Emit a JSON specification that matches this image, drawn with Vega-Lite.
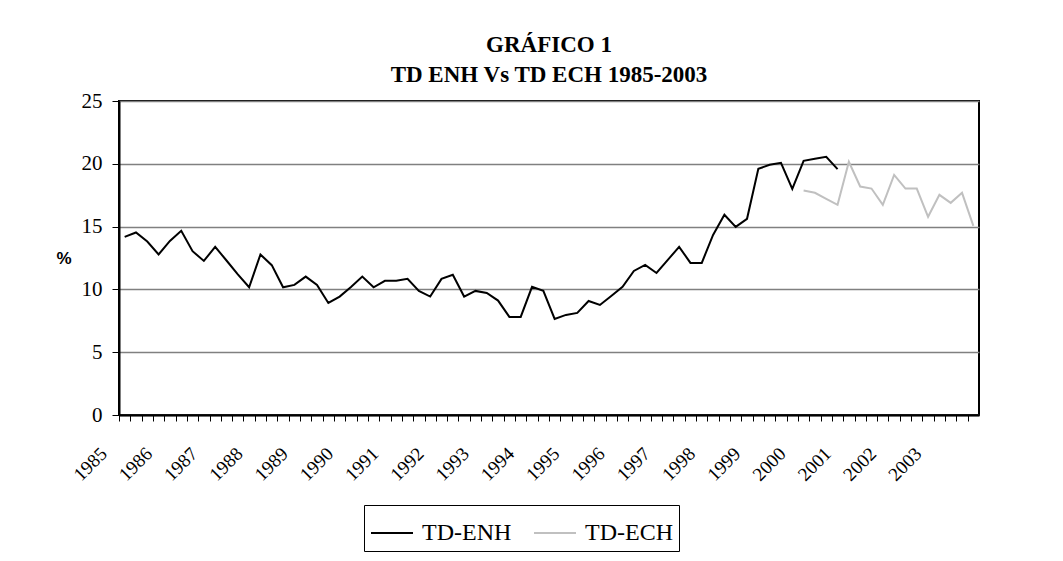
{
  "$schema": "https://vega.github.io/schema/vega-lite/v6.json",
  "width": 860,
  "height": 314,
  "autosize": {"type": "none"},
  "padding": {"left": 119, "top": 101, "right": 84, "bottom": 146},
  "background": "white",
  "title": {
    "text": ["GRÁFICO 1", "TD ENH Vs TD ECH 1985-2003"],
    "font": "Liberation Serif",
    "fontSize": 23,
    "fontWeight": "bold",
    "color": "#000",
    "anchor": "middle",
    "lineHeight": 30,
    "offset": 3
  },
  "data": {
    "values": [
      {"periodo": "1985-1", "serie": "TD-ENH", "valor": 14.18},
      {"periodo": "1985-2", "serie": "TD-ENH", "valor": 14.53},
      {"periodo": "1985-3", "serie": "TD-ENH", "valor": 13.81},
      {"periodo": "1985-4", "serie": "TD-ENH", "valor": 12.78},
      {"periodo": "1986-1", "serie": "TD-ENH", "valor": 13.86},
      {"periodo": "1986-2", "serie": "TD-ENH", "valor": 14.66},
      {"periodo": "1986-3", "serie": "TD-ENH", "valor": 13.04},
      {"periodo": "1986-4", "serie": "TD-ENH", "valor": 12.27},
      {"periodo": "1987-1", "serie": "TD-ENH", "valor": 13.39},
      {"periodo": "1987-2", "serie": "TD-ENH", "valor": 12.3},
      {"periodo": "1987-3", "serie": "TD-ENH", "valor": 11.2},
      {"periodo": "1987-4", "serie": "TD-ENH", "valor": 10.17},
      {"periodo": "1988-1", "serie": "TD-ENH", "valor": 12.78},
      {"periodo": "1988-2", "serie": "TD-ENH", "valor": 11.93},
      {"periodo": "1988-3", "serie": "TD-ENH", "valor": 10.17},
      {"periodo": "1988-4", "serie": "TD-ENH", "valor": 10.36},
      {"periodo": "1989-1", "serie": "TD-ENH", "valor": 11.02},
      {"periodo": "1989-2", "serie": "TD-ENH", "valor": 10.36},
      {"periodo": "1989-3", "serie": "TD-ENH", "valor": 8.92},
      {"periodo": "1989-4", "serie": "TD-ENH", "valor": 9.43},
      {"periodo": "1990-1", "serie": "TD-ENH", "valor": 10.2},
      {"periodo": "1990-2", "serie": "TD-ENH", "valor": 11.02},
      {"periodo": "1990-3", "serie": "TD-ENH", "valor": 10.17},
      {"periodo": "1990-4", "serie": "TD-ENH", "valor": 10.68},
      {"periodo": "1991-1", "serie": "TD-ENH", "valor": 10.68},
      {"periodo": "1991-2", "serie": "TD-ENH", "valor": 10.84},
      {"periodo": "1991-3", "serie": "TD-ENH", "valor": 9.88},
      {"periodo": "1991-4", "serie": "TD-ENH", "valor": 9.43},
      {"periodo": "1992-1", "serie": "TD-ENH", "valor": 10.84},
      {"periodo": "1992-2", "serie": "TD-ENH", "valor": 11.16},
      {"periodo": "1992-3", "serie": "TD-ENH", "valor": 9.43},
      {"periodo": "1992-4", "serie": "TD-ENH", "valor": 9.88},
      {"periodo": "1993-1", "serie": "TD-ENH", "valor": 9.72},
      {"periodo": "1993-2", "serie": "TD-ENH", "valor": 9.11},
      {"periodo": "1993-3", "serie": "TD-ENH", "valor": 7.81},
      {"periodo": "1993-4", "serie": "TD-ENH", "valor": 7.81},
      {"periodo": "1994-1", "serie": "TD-ENH", "valor": 10.2},
      {"periodo": "1994-2", "serie": "TD-ENH", "valor": 9.88},
      {"periodo": "1994-3", "serie": "TD-ENH", "valor": 7.65},
      {"periodo": "1994-4", "serie": "TD-ENH", "valor": 7.97},
      {"periodo": "1995-1", "serie": "TD-ENH", "valor": 8.13},
      {"periodo": "1995-2", "serie": "TD-ENH", "valor": 9.08},
      {"periodo": "1995-3", "serie": "TD-ENH", "valor": 8.76},
      {"periodo": "1995-4", "serie": "TD-ENH", "valor": 9.48},
      {"periodo": "1996-1", "serie": "TD-ENH", "valor": 10.2},
      {"periodo": "1996-2", "serie": "TD-ENH", "valor": 11.47},
      {"periodo": "1996-3", "serie": "TD-ENH", "valor": 11.95},
      {"periodo": "1996-4", "serie": "TD-ENH", "valor": 11.31},
      {"periodo": "1997-1", "serie": "TD-ENH", "valor": 12.35},
      {"periodo": "1997-2", "serie": "TD-ENH", "valor": 13.39},
      {"periodo": "1997-3", "serie": "TD-ENH", "valor": 12.11},
      {"periodo": "1997-4", "serie": "TD-ENH", "valor": 12.11},
      {"periodo": "1998-1", "serie": "TD-ENH", "valor": 14.34},
      {"periodo": "1998-2", "serie": "TD-ENH", "valor": 15.94},
      {"periodo": "1998-3", "serie": "TD-ENH", "valor": 14.98},
      {"periodo": "1998-4", "serie": "TD-ENH", "valor": 15.62},
      {"periodo": "1999-1", "serie": "TD-ENH", "valor": 19.6},
      {"periodo": "1999-2", "serie": "TD-ENH", "valor": 19.92},
      {"periodo": "1999-3", "serie": "TD-ENH", "valor": 20.08},
      {"periodo": "1999-4", "serie": "TD-ENH", "valor": 18.0},
      {"periodo": "2000-1", "serie": "TD-ENH", "valor": 20.24},
      {"periodo": "2000-2", "serie": "TD-ENH", "valor": 20.4},
      {"periodo": "2000-3", "serie": "TD-ENH", "valor": 20.56},
      {"periodo": "2000-4", "serie": "TD-ENH", "valor": 19.57},
      {"periodo": "2000-1", "serie": "TD-ECH", "valor": 17.87},
      {"periodo": "2000-2", "serie": "TD-ECH", "valor": 17.69},
      {"periodo": "2000-3", "serie": "TD-ECH", "valor": 17.21},
      {"periodo": "2000-4", "serie": "TD-ECH", "valor": 16.73},
      {"periodo": "2001-1", "serie": "TD-ECH", "valor": 20.16},
      {"periodo": "2001-2", "serie": "TD-ECH", "valor": 18.19},
      {"periodo": "2001-3", "serie": "TD-ECH", "valor": 18.03},
      {"periodo": "2001-4", "serie": "TD-ECH", "valor": 16.73},
      {"periodo": "2002-1", "serie": "TD-ECH", "valor": 19.12},
      {"periodo": "2002-2", "serie": "TD-ECH", "valor": 18.03},
      {"periodo": "2002-3", "serie": "TD-ECH", "valor": 18.03},
      {"periodo": "2002-4", "serie": "TD-ECH", "valor": 15.78},
      {"periodo": "2003-1", "serie": "TD-ECH", "valor": 17.53},
      {"periodo": "2003-2", "serie": "TD-ECH", "valor": 16.89},
      {"periodo": "2003-3", "serie": "TD-ECH", "valor": 17.69},
      {"periodo": "2003-4", "serie": "TD-ECH", "valor": 15.06}
    ]
  },
  "mark": {"type": "line", "strokeWidth": 2},
  "encoding": {
    "x": {
      "field": "periodo",
      "type": "ordinal",
      "sort": "ascending",
      "scale": {"type": "point", "padding": 0.5},
      "axis": {
        "title": null,
        "labelExpr": "slice(datum.value, 5) == '1' ? slice(datum.value, 0, 4) : ''",
        "labelAngle": -45,
        "labelOverlap": false,
        "labelFont": "Liberation Serif",
        "labelFontSize": 19,
        "labelColor": "#000",
        "labelPadding": 23,
        "labelOffset": -22,
        "tickOffset": -5.66,
        "tickSize": 6,
        "tickColor": "#000",
        "domainColor": "#000",
        "domainWidth": 2,
        "grid": false
      }
    },
    "y": {
      "field": "valor",
      "type": "quantitative",
      "scale": {"domain": [0, 25]},
      "axis": {
        "title": "%",
        "titleAngle": 0,
        "titleFont": "Liberation Sans",
        "titleFontSize": 17,
        "titleFontWeight": "bold",
        "titleColor": "#000",
        "titleAlign": "right",
        "titleBaseline": "middle",
        "titlePadding": 10,
        "values": [0, 5, 10, 15, 20, 25],
        "labelFont": "Liberation Serif",
        "labelFontSize": 21,
        "labelColor": "#000",
        "labelPadding": 10,
        "tickSize": 7,
        "tickColor": "#000",
        "domainColor": "#000",
        "domainWidth": 2,
        "grid": true,
        "gridColor": "#808080",
        "gridWidth": 1.5
      }
    },
    "color": {
      "field": "serie",
      "type": "nominal",
      "scale": {"domain": ["TD-ENH", "TD-ECH"], "range": ["#000000", "#c0c0c0"]},
      "legend": {
        "title": null,
        "orient": "none",
        "legendX": 245,
        "legendY": 404,
        "direction": "horizontal",
        "symbolType": "stroke",
        "symbolSize": 1764,
        "symbolStrokeWidth": 2,
        "labelFont": "Liberation Serif",
        "labelFontSize": 24,
        "labelColor": "#000",
        "labelOffset": 8,
        "strokeColor": "#000",
        "padding": 6,
        "columnPadding": 18
      }
    }
  },
  "config": {
    "font": "Liberation Serif",
    "view": {"stroke": "#000", "strokeWidth": 2}
  }
}
